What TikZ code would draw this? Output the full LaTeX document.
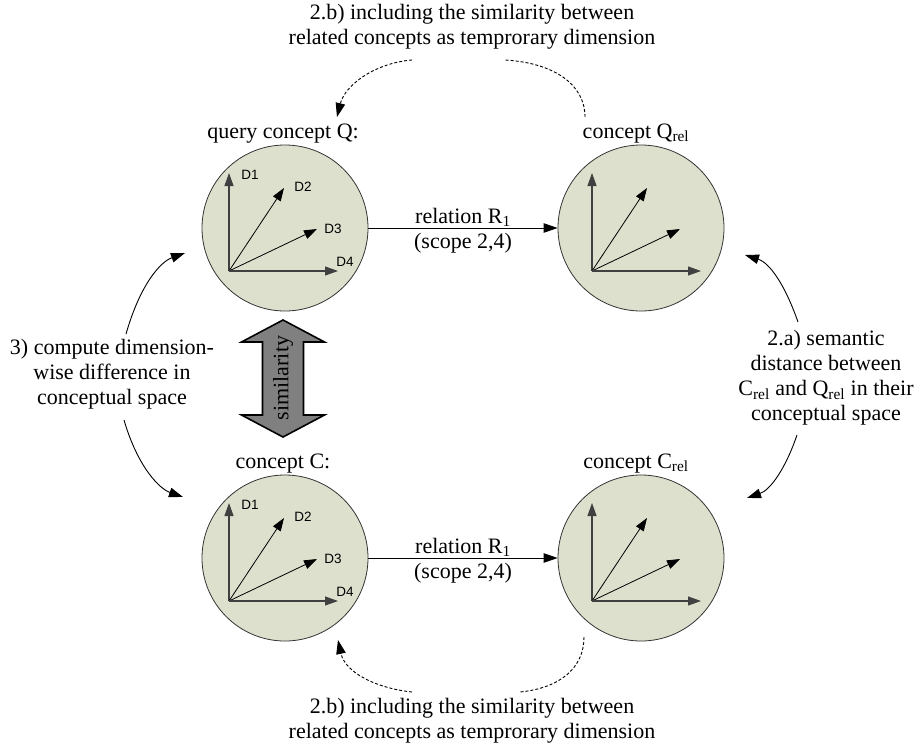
\documentclass[tikz,border=0pt]{standalone}
\usepackage{fontspec}
\setmainfont{Liberation Serif}
\newfontfamily\labelfont{Liberation Sans}
\usetikzlibrary{arrows.meta}
\definecolor{conceptfill}{RGB}{221,224,205}
\definecolor{simgray}{RGB}{128,128,128}

% four dimension axes drawn inside a concept circle
\newcommand\dimaxes[2]{%
  \begin{scope}[shift={(#1.center)}, xshift=#2]
    \coordinate (#1o) at (-56,43);
    \draw[axis] (#1o) -- (-56,-55);
    \draw[axisthin] (#1o) -- (-1,-40);
    \draw[axisthin] (#1o) -- (32,1);
    \draw[axis] (#1o) -- (53,43);
  \end{scope}}
\newcommand\dimnames[1]{%
  \begin{scope}[shift={(#1.center)}]
    \node[dimlabel] (#1d1) at (-35,-53) {D1};
    \node[dimlabel] (#1d2) at (18,-41) {D2};
    \node[dimlabel] (#1d3) at (48,1) {D3};
    \node[dimlabel] (#1d4) at (60,34) {D4};
  \end{scope}}

\begin{document}
\begin{tikzpicture}[x=1pt,y=-1pt,
  concept/.style={circle,draw=black!80,line width=0.8pt,fill=conceptfill,
    minimum size=166pt,inner sep=0pt},
  axis/.style={draw=black!75,line width=1.1pt,-{Triangle[length=13pt,width=9pt]}},
  axisthin/.style={draw=black,line width=0.8pt,-{Triangle[length=13pt,width=9pt]}},
  dimlabel/.style={font=\labelfont\fontsize{13.5}{15}\selectfont,inner sep=0pt},
  caption/.style={font=\fontsize{22}{25}\selectfont,align=center,inner sep=0pt},
  link/.style={draw=black,line width=0.9pt,-{Triangle[length=14pt,width=9.5pt]}},
  dashlink/.style={draw=black,line width=0.9pt,dash pattern=on 3pt off 2pt},
]
\useasboundingbox (0,0) rectangle (924,747);

% concept spaces
\node[concept] (Q)    at (285,228) {};
\node[concept] (Qrel) at (641,228) {};
\node[concept] (C)    at (285,558) {};
\node[concept] (Crel) at (641,558) {};

\dimaxes{Q}{0pt}
\dimaxes{Qrel}{7pt}
\dimaxes{C}{0pt}
\dimaxes{Crel}{7pt}
\dimnames{Q}
\dimnames{C}

% concept titles
\node[caption,anchor=base] (lQ)    at (283,138) {query concept Q:};
\node[caption,anchor=base] (lQrel) at (636,138) {concept Q\textsubscript{rel}};
\node[caption,anchor=base] (lC)    at (283,468) {concept C:};
\node[caption,anchor=base] (lCrel) at (636,468) {concept C\textsubscript{rel}};

% relations
\draw[link] (Q) -- (Qrel) node[caption,midway,yshift=-2.5pt] (r1) {relation R\textsubscript{1}\\(scope 2,4)};
\draw[link] (C) -- (Crel) node[caption,midway,yshift=-2.5pt] (r2) {relation R\textsubscript{1}\\(scope 2,4)};

% similarity double arrow
\draw[fill=simgray,draw=black,line width=1.6pt,line join=miter]
  (283,320) -- (324.5,342) -- (303.5,342) -- (303.5,415) -- (324.5,415)
  -- (283,437) -- (241.5,415) -- (262.5,415) -- (262.5,342) -- (241.5,342) -- cycle;
\node[caption,rotate=90] (sim) at (283,378) {similarity};

% step descriptions
\node[caption] (topnote) at (472,27)
  {2.b) including the similarity between\\related concepts as temprorary dimension};
\node[caption] (botnote) at (472,721)
  {2.b) including the similarity between\\related concepts as temprorary dimension};
\node[caption] (leftnote) at (112,374)
  {3) compute dimension-\\wise difference in\\conceptual space};
\node[caption] (rightnote) at (826,378)
  {2.a) semantic\\distance between\\C\textsubscript{rel} and Q\textsubscript{rel} in their\\conceptual space};

% connector end points
\coordinate (tR0) at (585,117);
\coordinate (tR1) at (505,60);
\coordinate (tL0) at (412,60);
\coordinate (tL1) at (337,117);
\coordinate (bR0) at (584,637);
\coordinate (bR1) at (520,692);
\coordinate (bL0) at (412,692);
\coordinate (bL1) at (338,640);
\coordinate (lU0) at (126,334);
\coordinate (lU1) at (185,253);
\coordinate (lD0) at (124,420);
\coordinate (lD1) at (183,497);
\coordinate (rU0) at (798,322);
\coordinate (rU1) at (745,255);
\coordinate (rD0) at (797,435);
\coordinate (rD1) at (747,498);

% dashed connectors through the 2.b) notes
\draw[dashlink] (tR0) .. controls (585,85) and (555,63) .. (tR1);
\draw[dashlink,-{Triangle[length=14pt,width=9.5pt]}] (tL0) .. controls (375,63) and (345,85) .. (tL1);
\draw[dashlink] (bR0) .. controls (584,668) and (560,688) .. (bR1);
\draw[dashlink,-{Triangle[length=14pt,width=9.5pt]}] (bL0) .. controls (375,688) and (345,672) .. (bL1);

% solid connectors of the 3) and 2.a) notes
\draw[link] (lU0) .. controls (140,285) and (160,262) .. (lU1);
\draw[link] (lD0) .. controls (138,468) and (160,489) .. (lD1);
\draw[link] (rU0) .. controls (785,285) and (770,263) .. (rU1);
\draw[link] (rD0) .. controls (785,470) and (770,490) .. (rD1);
\end{tikzpicture}
\end{document}
